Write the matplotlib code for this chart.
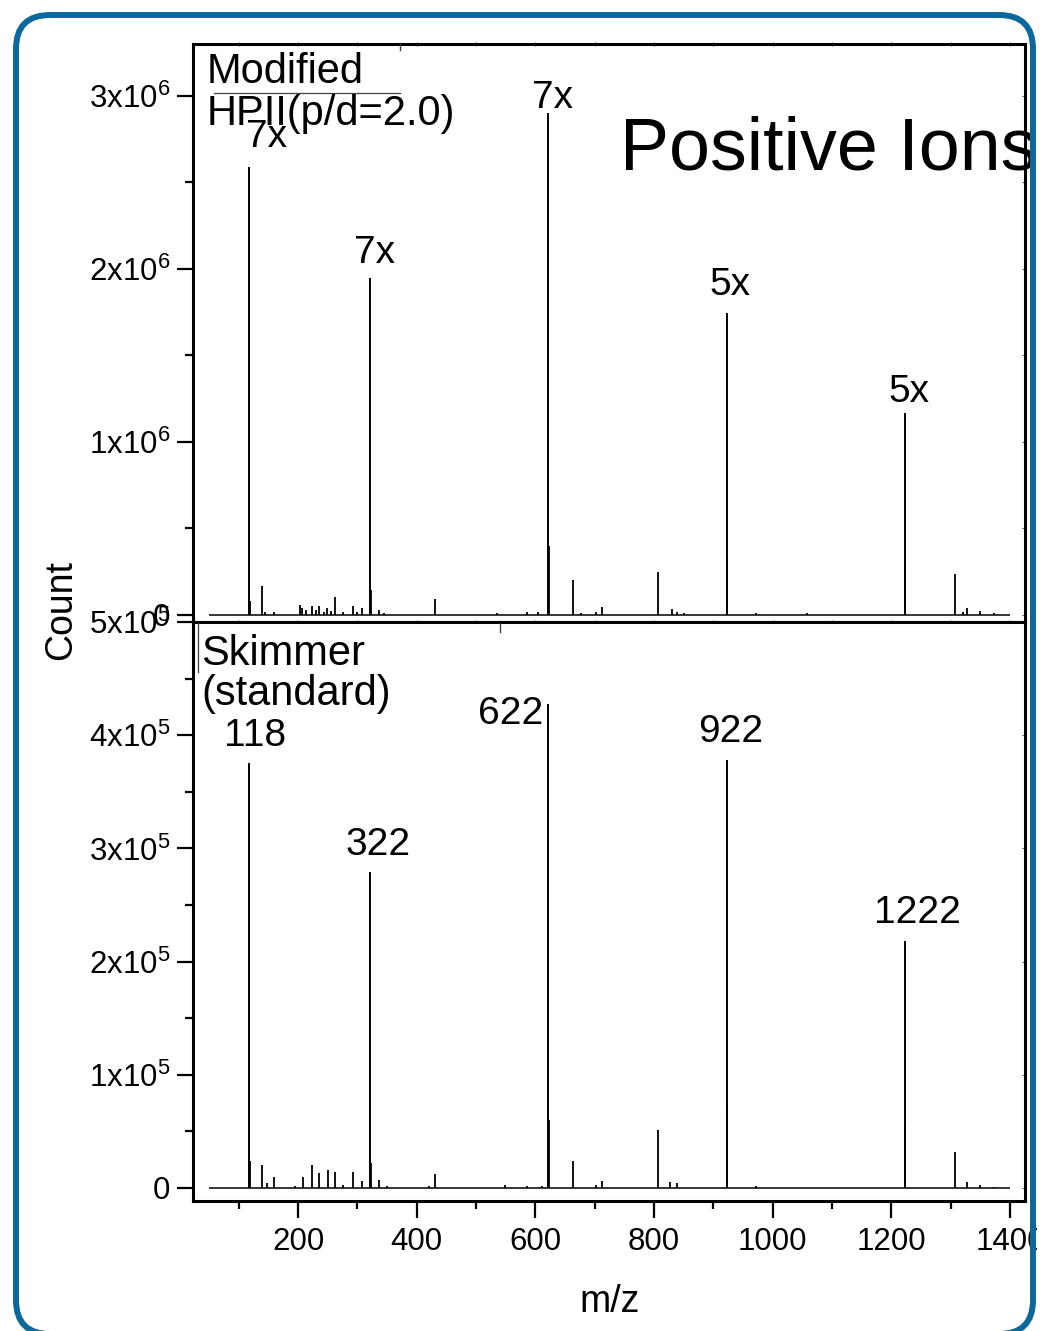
import matplotlib
matplotlib.use("Agg")
import matplotlib.pyplot as plt
from matplotlib.patches import FancyBboxPatch, Rectangle
from matplotlib.lines import Line2D
from matplotlib.ticker import MultipleLocator, FuncFormatter
import numpy as np

plt.rcParams['font.family'] = ['Liberation Sans', 'DejaVu Sans']
plt.rcParams['mathtext.fontset'] = 'custom'
plt.rcParams['mathtext.rm'] = 'Liberation Sans'
plt.rcParams['mathtext.it'] = 'Liberation Sans:italic'
plt.rcParams['mathtext.bf'] = 'Liberation Sans:bold'

# scanned m/z range of both spectra
mz_range = [50, 1400]

# Modified HPII (p/d=2.0): labelled peaks and their scale factors
top_main_mz = [118, 322, 622, 922, 1222]
top_main_counts = [2.59e6, 1.95e6, 2.90e6, 1.745e6, 1.17e6]
top_scale = [7, 7, 7, 5, 5]

top_minor_mz = [119, 139, 145, 160, 204, 207, 214, 223, 230, 236, 243, 249, 255,
                262, 275, 292, 300, 307, 323, 337, 345, 430, 535, 585, 605, 623,
                663, 676, 702, 712, 807, 830, 838, 851, 923, 972, 1057, 1223,
                1307, 1321, 1328, 1350, 1372]
top_minor_counts = [0.08e6, 0.168e6, 0.02e6, 0.015e6, 0.06e6, 0.04e6, 0.03e6,
                    0.05e6, 0.03e6, 0.05e6, 0.02e6, 0.04e6, 0.025e6, 0.106e6,
                    0.015e6, 0.05e6, 0.015e6, 0.04e6, 0.145e6, 0.03e6, 0.01e6,
                    0.09e6, 0.012e6, 0.015e6, 0.02e6, 0.40e6, 0.20e6, 0.01e6,
                    0.015e6, 0.048e6, 0.247e6, 0.035e6, 0.015e6, 0.012e6,
                    0.34e6, 0.012e6, 0.01e6, 0.30e6, 0.237e6, 0.02e6, 0.04e6,
                    0.025e6, 0.01e6]

# Skimmer (standard)
bot_main_mz = [118, 322, 622, 922, 1222]
bot_main_counts = [3.75e5, 2.79e5, 4.28e5, 3.78e5, 2.18e5]

bot_minor_mz = [119, 139, 148, 159, 195, 209, 223, 236, 250, 262, 275, 292, 307,
                323, 336, 350, 420, 430, 549, 585, 611, 623, 663, 702, 712, 807,
                827, 838, 923, 972, 1223, 1307, 1328, 1349, 1372]
bot_minor_counts = [0.24e5, 0.20e5, 0.04e5, 0.10e5, 0.02e5, 0.10e5, 0.20e5,
                    0.135e5, 0.16e5, 0.14e5, 0.03e5, 0.145e5, 0.06e5, 0.22e5,
                    0.07e5, 0.02e5, 0.02e5, 0.12e5, 0.03e5, 0.02e5, 0.015e5,
                    0.60e5, 0.24e5, 0.03e5, 0.06e5, 0.51e5, 0.05e5, 0.04e5,
                    0.73e5, 0.02e5, 0.56e5, 0.32e5, 0.05e5, 0.03e5, 0.01e5]

x_major = [200, 400, 600, 800, 1000, 1200, 1400]

# label offsets (pixels, baseline) from the top of each labelled peak
top_offsets = [(17, 20), (4, 15), (4, 5), (4, 18), (4, 11)]
bot_offsets = [(6, 17), (8, 17), (-38, -20), (4, 18), (13, 18)]

W, H, DPI = 1040, 1331, 100
fig = plt.figure(figsize=(W / DPI, H / DPI), dpi=DPI)
fig.patch.set_facecolor('white')


def fx(x):
    return x / W


def fy(y):
    return 1 - y / H


ax_top = fig.add_axes([fx(193), fy(622), fx(1025) - fx(193), fy(44) - fy(622)])
ax_bot = fig.add_axes([fx(193), fy(1201), fx(1025) - fx(193), fy(622) - fy(1201)])


def sci_label(v, pos):
    if v == 0:
        return '0'
    e = int(np.floor(np.log10(abs(v)) + 1e-9))
    m = v / 10 ** e
    return r'$\mathrm{%dx10^{%d}}$' % (round(m), e)


def draw_spectrum(ax, main_mz, main_c, minor_mz, minor_c):
    ax.plot(mz_range, [0, 0], color='k', lw=1.1, solid_capstyle='butt')
    ax.vlines(minor_mz, 0, minor_c, color='k', lw=1.3)
    ax.vlines(main_mz, 0, main_c, color='k', lw=1.4)


def style_axes(ax, ymajor, yminor):
    for s in ax.spines.values():
        s.set_linewidth(2.2)
    ax.set_xlim(23, 1425)
    ax.xaxis.set_major_locator(MultipleLocator(200))
    ax.xaxis.set_minor_locator(MultipleLocator(100))
    ax.yaxis.set_major_locator(MultipleLocator(ymajor))
    ax.yaxis.set_minor_locator(MultipleLocator(yminor))
    ax.yaxis.set_major_formatter(FuncFormatter(sci_label))
    ax.tick_params(axis='y', which='major', direction='out', length=11.5,
                   width=1.6, labelsize=22.5, pad=5, right=True)
    ax.tick_params(axis='y', which='minor', direction='out', length=6,
                   width=1.6, right=True)
    ax.tick_params(axis='y', which='both', right=True)


draw_spectrum(ax_top, top_main_mz, top_main_counts, top_minor_mz, top_minor_counts)
draw_spectrum(ax_bot, bot_main_mz, bot_main_counts, bot_minor_mz, bot_minor_counts)

style_axes(ax_top, 1e6, 0.5e6)
style_axes(ax_bot, 1e5, 0.5e5)
ax_top.set_ylim(-0.0405e6, 3.30e6)
ax_bot.set_ylim(-0.115e5, 5.0e5)

# right and top edges only carry faint inner ticks
for ax in (ax_top, ax_bot):
    ax.tick_params(axis='y', which='both', right=True)
    ax.yaxis.set_ticks_position('left')
    ax.secondary_yaxis('right').tick_params(which='both', direction='in',
                                            length=2.5, width=0.8, colors='0.4',
                                            labelright=False)

ax_top.tick_params(axis='x', which='both', direction='inout', length=3,
                   width=0.8, color='0.4', labelbottom=False, top=True)
ax_bot.tick_params(axis='x', which='major', direction='out', length=12,
                   width=1.6, labelsize=22.5, pad=7, top=False)
ax_bot.tick_params(axis='x', which='minor', direction='out', length=6,
                   width=1.6, top=False)
ax_bot.set_xticks(x_major)
ax_bot.set_xticklabels([str(v) for v in x_major])

# peak annotations
for m, c, k, (dx, dy) in zip(top_main_mz, top_main_counts, top_scale, top_offsets):
    ax_top.annotate(f'{k}x', xy=(m, c), xytext=(dx, dy), textcoords='offset pixels',
                    ha='center', va='baseline', fontsize=28)
for m, c, (dx, dy) in zip(bot_main_mz, bot_main_counts, bot_offsets):
    ax_bot.annotate(f'{m}', xy=(m, c), xytext=(dx, dy), textcoords='offset pixels',
                    ha='center', va='baseline', fontsize=28)

# panel captions
fig.text(fx(207), fy(83), 'Modified', fontsize=30, va='baseline', ha='left')
fig.text(fx(207), fy(125), 'HPII(p/d=2.0)', fontsize=30, va='baseline', ha='left')
fig.text(fx(201), fy(665), 'Skimmer', fontsize=30, va='baseline', ha='left')
fig.text(fx(201), fy(705), '(standard)', fontsize=30, va='baseline', ha='left')
fig.text(fx(620), fy(170), 'Positive Ions', fontsize=53, va='baseline', ha='left')

# text-box edges left around the captions
for xs, ys, lw in [([214, 400], [93, 93], 0.9), ([400, 400], [44, 50], 1.0),
                   ([198, 198], [623, 672], 0.9), ([500, 500], [623, 632], 1.0)]:
    fig.add_artist(Line2D([fx(x) for x in xs], [fy(y) for y in ys],
                          transform=fig.transFigure, color='0.25', lw=lw))

fig.text(fx(61), fy(610), 'Count', rotation=90, fontsize=27, ha='center', va='center')
fig.text(fx(610), fy(1312), 'm/z', fontsize=27, ha='center', va='baseline')

# rounded frame, content outside it is blanked
fig.add_artist(Rectangle((10.365, 0), 0.2, H / DPI, transform=fig.dpi_scale_trans,
                         facecolor='white', edgecolor='none', zorder=10))
fig.add_artist(FancyBboxPatch((0.16, -0.03), 10.17, 13.19,
                              boxstyle='round,pad=0,rounding_size=0.34',
                              transform=fig.dpi_scale_trans, facecolor='none',
                              edgecolor='#0a689c', lw=4.3, zorder=11))

fig.savefig('out.png', dpi=DPI)
